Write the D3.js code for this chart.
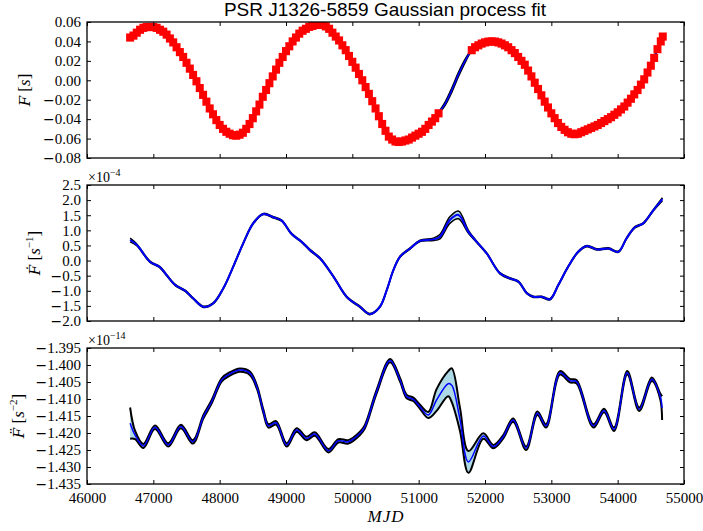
<!DOCTYPE html>
<html><head><meta charset="utf-8">
<script src="https://cdn.jsdelivr.net/npm/d3@7"></script>
<style>body{margin:0;background:#fff}svg{display:block}</style>
</head><body>
<svg id="c" width="703" height="531"></svg>
<script>
// ---------------- DATA ----------------
const xTicks = [46000,47000,48000,49000,50000,51000,52000,53000,54000,55000];
const fTicks = [-0.08,-0.06,-0.04,-0.02,0.00,0.02,0.04,0.06];
const fdTicks = [-2.0,-1.5,-1.0,-0.5,0.0,0.5,1.0,1.5,2.0,2.5];
const fddTicks = [-1.435,-1.430,-1.425,-1.420,-1.415,-1.410,-1.405,-1.400,-1.395];

// timing residuals (MJD, seconds)
const toa = [
[46650,0.044],[46700,0.046],[46750,0.049],[46800,0.052],[46850,0.054],[46900,0.0548],[46950,0.055],[47000,0.0548],
[47050,0.054],[47100,0.052],[47150,0.050],[47200,0.047],[47250,0.043],[47300,0.039],[47350,0.034],[47400,0.029],
[47450,0.024],[47500,0.018],[47550,0.012],[47600,0.0055],[47650,-0.001],[47700,-0.008],[47750,-0.015],[47800,-0.022],
[47850,-0.029],[47900,-0.035],[47950,-0.041],[48000,-0.046],[48050,-0.050],[48100,-0.053],[48150,-0.055],[48200,-0.0565],
[48250,-0.057],[48300,-0.056],[48350,-0.054],[48400,-0.050],[48450,-0.045],[48500,-0.039],[48550,-0.032],[48600,-0.025],
[48650,-0.017],[48700,-0.010],[48750,-0.003],[48800,0.004],[48850,0.011],[48900,0.018],[48950,0.024],[49000,0.030],
[49050,0.035],[49100,0.040],[49150,0.044],[49200,0.048],[49250,0.051],[49300,0.053],[49350,0.055],[49400,0.056],
[49450,0.057],[49500,0.0575],[49550,0.057],[49600,0.0555],[49650,0.053],[49700,0.049],[49750,0.045],[49800,0.041],
[49850,0.036],[49900,0.031],[49950,0.025],[50000,0.019],[50050,0.013],[50100,0.0065],[50150,0.000],[50200,-0.007],
[50250,-0.014],[50300,-0.0215],[50350,-0.029],[50400,-0.037],[50450,-0.045],[50500,-0.052],[50550,-0.058],[50600,-0.061],
[50650,-0.063],[50700,-0.0635],[50750,-0.063],[50800,-0.062],[50850,-0.061],[50900,-0.059],[50950,-0.057],[51000,-0.055],
[51050,-0.053],[51100,-0.050],[51150,-0.046],[51200,-0.0425],[51250,-0.039],[51300,-0.034],
[51800,0.031],[51850,0.034],[51900,0.036],[51950,0.0378],[52000,0.039],[52050,0.0398],[52100,0.040],[52150,0.0398],
[52200,0.039],[52250,0.0378],[52300,0.036],[52350,0.034],[52400,0.031],[52450,0.028],[52500,0.024],[52550,0.020],
[52600,0.016],[52650,0.010],[52700,0.004],[52750,-0.0025],[52800,-0.009],[52850,-0.0155],[52900,-0.022],[52950,-0.028],
[53000,-0.034],[53050,-0.039],[53100,-0.044],[53150,-0.048],[53200,-0.051],[53250,-0.0535],[53300,-0.055],[53350,-0.0555],
[53400,-0.055],[53450,-0.0535],[53500,-0.052],[53550,-0.0505],[53600,-0.049],[53650,-0.0475],[53700,-0.046],[53750,-0.044],
[53800,-0.042],[53850,-0.040],[53900,-0.038],[53950,-0.0355],[54000,-0.033],[54050,-0.030],[54100,-0.027],[54150,-0.023],
[54200,-0.019],[54250,-0.0145],[54300,-0.010],[54350,-0.0045],[54400,0.001],[54450,0.008],[54500,0.015],[54550,0.023],
[54600,0.032],[54650,0.040],[54680,0.045]
];
const toaErr = 0.0042;

// GP fit of F (s)
const fMJD  = [46650,46750,46850,46950,47050,47150,47250,47350,47450,47550,47650,47750,47850,47950,48050,48150,48250,48350,48450,48550,48650,48750,48850,48950,49050,49150,49250,49350,49450,49550,49650,49750,49850,49950,50050,50150,50250,50350,50450,50550,50650,50750,50850,50950,51050,51150,51250,51300,51400,51500,51600,51700,51800,51900,52000,52100,52200,52300,52400,52500,52600,52700,52800,52900,53000,53100,53200,53300,53400,53500,53600,53700,53800,53900,54000,54100,54200,54300,54400,54500,54600,54680];
const fMean = [0.044,0.049,0.054,0.055,0.054,0.050,0.043,0.034,0.024,0.012,-0.001,-0.015,-0.029,-0.041,-0.050,-0.055,-0.057,-0.054,-0.045,-0.032,-0.017,-0.003,0.011,0.024,0.035,0.044,0.051,0.055,0.057,0.057,0.053,0.045,0.036,0.025,0.013,0.000,-0.014,-0.029,-0.045,-0.058,-0.063,-0.063,-0.061,-0.057,-0.053,-0.046,-0.039,-0.034,-0.024,-0.010,0.006,0.020,0.031,0.036,0.039,0.040,0.039,0.036,0.031,0.024,0.016,0.004,-0.009,-0.022,-0.034,-0.044,-0.051,-0.055,-0.055,-0.052,-0.049,-0.046,-0.042,-0.038,-0.033,-0.027,-0.019,-0.010,0.001,0.015,0.032,0.045];
const fSig  = [0.0005,0.0005,0.0005,0.0005,0.0005,0.0005,0.0005,0.0005,0.0005,0.0005,0.0005,0.0005,0.0005,0.0005,0.0005,0.0005,0.0005,0.0005,0.0005,0.0005,0.0005,0.0005,0.0005,0.0005,0.0005,0.0005,0.0005,0.0005,0.0005,0.0005,0.0005,0.0005,0.0005,0.0005,0.0005,0.0005,0.0005,0.0005,0.0005,0.0005,0.0005,0.0005,0.0005,0.0005,0.0005,0.0005,0.0005,0.0006,0.0014,0.0018,0.0018,0.0014,0.0006,0.0005,0.0005,0.0005,0.0005,0.0005,0.0005,0.0005,0.0005,0.0005,0.0005,0.0005,0.0005,0.0005,0.0005,0.0005,0.0005,0.0005,0.0005,0.0005,0.0005,0.0005,0.0005,0.0005,0.0005,0.0005,0.0005,0.0005,0.0005,0.0005];

// GP fit of F-dot (units of 1e-4 s^-1)
const fdMJD  = [46650,46750,46950,47100,47200,47330,47480,47600,47755,47905,48055,48205,48355,48505,48660,48810,48935,49085,49235,49360,49515,49715,49915,50115,50265,50415,50520,50620,50720,50870,51020,51220,51320,51470,51600,51750,51875,52025,52225,52375,52505,52630,52730,52855,52980,53105,53255,53405,53535,53685,53860,54010,54135,54260,54385,54540,54675];
const fdMean = [0.68,0.52,-0.04,-0.22,-0.48,-0.81,-1.00,-1.25,-1.53,-1.41,-0.92,-0.20,0.57,1.23,1.54,1.43,1.32,0.88,0.62,0.35,0.07,-0.53,-1.20,-1.53,-1.77,-1.53,-0.97,-0.31,0.13,0.40,0.65,0.70,0.79,1.34,1.51,0.95,0.62,0.24,-0.42,-0.59,-0.70,-1.08,-1.20,-1.20,-1.28,-0.81,-0.20,0.29,0.48,0.37,0.40,0.29,0.74,1.10,1.23,1.67,2.03];
const fdSig  = [0.06,0.03,0.02,0.02,0.02,0.02,0.02,0.02,0.02,0.02,0.02,0.02,0.02,0.02,0.02,0.02,0.02,0.02,0.02,0.02,0.02,0.02,0.02,0.02,0.02,0.02,0.02,0.02,0.02,0.02,0.02,0.04,0.07,0.11,0.13,0.05,0.02,0.02,0.02,0.02,0.02,0.02,0.02,0.02,0.02,0.02,0.02,0.02,0.02,0.02,0.02,0.02,0.02,0.02,0.02,0.02,0.05];

// GP fit of F-double-dot (units of 1e-14 s^-2)
const fddMJD  = [46650,46725,46850,47025,47225,47415,47595,47755,47880,48030,48155,48305,48455,48560,48660,48735,48850,49010,49160,49310,49435,49640,49790,49940,50115,50190,50365,50570,50720,50820,50920,51020,51145,51270,51445,51500,51623,51750,51975,52125,52275,52425,52620,52790,52920,53130,53280,53380,53635,53795,53945,54145,54325,54515,54640,54670];
const fddMean = [-1.4171,-1.4206,-1.4238,-1.4183,-1.4235,-1.4181,-1.4226,-1.4152,-1.4108,-1.4044,-1.4026,-1.4015,-1.4024,-1.4064,-1.4137,-1.4179,-1.4170,-1.4235,-1.4191,-1.4216,-1.4203,-1.4252,-1.4223,-1.4226,-1.4201,-1.4181,-1.4079,-1.3987,-1.4044,-1.4093,-1.4101,-1.4123,-1.4147,-1.4103,-1.4055,-1.4060,-1.4160,-1.4285,-1.4209,-1.4240,-1.4211,-1.4162,-1.4245,-1.4142,-1.4179,-1.4023,-1.4046,-1.4049,-1.4179,-1.4134,-1.4189,-1.4023,-1.4130,-1.4042,-1.4091,-1.4127];
const fddSig  = [0.0046,0.0012,0.0006,0.0005,0.0005,0.0005,0.0005,0.0005,0.0005,0.0005,0.0005,0.0005,0.0005,0.0005,0.0005,0.0005,0.0005,0.0005,0.0005,0.0005,0.0005,0.0005,0.0005,0.0005,0.0005,0.0005,0.0005,0.0005,0.0005,0.0005,0.0005,0.0006,0.0009,0.0032,0.0037,0.0050,0.0034,0.0032,0.0008,0.0005,0.0005,0.0005,0.0005,0.0005,0.0005,0.0005,0.0005,0.0005,0.0005,0.0005,0.0005,0.0005,0.0005,0.0005,0.0008,0.0035];

// ---------------- DRAW ----------------
const svg = d3.select("#c");
const L = 87, R = 684;
const x = d3.scaleLinear().domain([46000,55000]).range([L,R]);
const serif = "'Liberation Serif','Times New Roman',serif";
const zip = (m,v,s) => m.map((d,i)=>({m:d,v:v[i],s:s[i]}));

const panels = [
  {top:22, bot:158, dom:[-0.08,0.06], ticks:fTicks, fmt:d3.format(".2f"), gp:zip(fMJD,fMean,fSig), meanW:1.6, boundW:1.8},
  {top:185, bot:321, dom:[-2.0,2.5], ticks:fdTicks, fmt:d3.format(".1f"), gp:zip(fdMJD,fdMean,fdSig), meanW:2, boundW:1.5},
  {top:348, bot:484, dom:[-1.435,-1.395], ticks:fddTicks, fmt:d3.format(".3f"), gp:zip(fddMJD,fddMean,fddSig), meanW:1.5, boundW:2}
];

panels.forEach((p,i)=>{
  const y = d3.scaleLinear().domain(p.dom).range([p.bot,p.top]);
  const cid = "clip"+i;
  svg.append("clipPath").attr("id",cid).append("rect")
    .attr("x",L).attr("y",p.top).attr("width",R-L).attr("height",p.bot-p.top);
  const g = svg.append("g").attr("clip-path",`url(#${cid})`);
  const curve = d3.curveCatmullRom.alpha(0.5);
  g.append("path").datum(p.gp)
    .attr("d", d3.area().x(d=>x(d.m)).y0(d=>y(d.v-d.s)).y1(d=>y(d.v+d.s)).curve(curve))
    .attr("fill","#add8e6");
  [1,-1].forEach(k=>{
    g.append("path").datum(p.gp)
      .attr("d", d3.line().x(d=>x(d.m)).y(d=>y(d.v+k*d.s)).curve(curve))
      .attr("fill","none").attr("stroke","#000").attr("stroke-width",p.boundW);
  });
  g.append("path").datum(p.gp)
    .attr("d", d3.line().x(d=>x(d.m)).y(d=>y(d.v)).curve(curve))
    .attr("fill","none").attr("stroke","#0000ff").attr("stroke-width",p.meanW);

  if(i===0){
    const eb = g.append("g").attr("stroke","#ff0000");
    toa.forEach(([m,v])=>{
      const cx = x(m);
      eb.append("line").attr("x1",cx).attr("x2",cx)
        .attr("y1",y(v+toaErr)).attr("y2",y(v-toaErr)).attr("stroke-width",8);
    });
  }

  // axes
  const styleAxis = sel => {
    sel.select(".domain").remove();
    sel.selectAll(".tick line").attr("stroke","#000").attr("stroke-width",1);
    sel.selectAll("text").attr("font-family",serif).attr("font-size",15).attr("fill","#000");
    sel.selectAll(".tick text").each(function(){
      const t = d3.select(this), s = t.text();
      if(s.startsWith("−")){
        t.text("");
        t.append("tspan").attr("font-family","'DejaVu Serif',serif").attr("font-size",14).text("−");
        t.append("tspan").text(s.slice(1));
      }
    });
  };
  svg.append("g").attr("transform",`translate(${L},0)`)
    .call(d3.axisLeft(y).tickValues(p.ticks).tickSize(-4).tickPadding(6).tickFormat(p.fmt)).call(styleAxis);
  svg.append("g").attr("transform",`translate(${R},0)`)
    .call(d3.axisRight(y).tickValues(p.ticks).tickSize(-4).tickFormat("")).call(styleAxis);
  svg.append("g").attr("transform",`translate(0,${p.top})`)
    .call(d3.axisTop(x).tickValues(xTicks).tickSize(-4).tickFormat("")).call(styleAxis);
  svg.append("g").attr("transform",`translate(0,${p.bot})`)
    .call(d3.axisBottom(x).tickValues(xTicks).tickSize(-4).tickPadding(8)
      .tickFormat(i===2 ? d3.format("d") : "")).call(styleAxis);
  svg.append("rect").attr("x",L).attr("y",p.top).attr("width",R-L).attr("height",p.bot-p.top)
    .attr("fill","none").attr("stroke","#000").attr("stroke-width",1.3);
});

// title
svg.append("text").attr("x",385).attr("y",16).attr("text-anchor","middle")
  .attr("font-family","'Liberation Sans',Arial,sans-serif").attr("font-size",19)
  .text("PSR J1326-5859 Gaussian process fit");

// offset texts
function offsetText(yb, exp){
  const t = svg.append("text").attr("x",88).attr("y",yb).attr("font-family",serif).attr("font-size",14);
  t.append("tspan").text("×10");
  t.append("tspan").attr("font-size",10).attr("dy",-6).text(exp);
}
offsetText(182,"−4");
offsetText(345,"−14");

// y labels
function ylab(xb, yc, dot, exp){
  const t = svg.append("text").attr("transform",`translate(${xb},${yc}) rotate(-90)`)
    .attr("text-anchor","middle").attr("font-family",serif).attr("font-size",17);
  t.append("tspan").attr("font-style","italic").attr("font-family","'DejaVu Serif',serif").attr("font-size",15)
    .text("F" + dot);
  t.append("tspan").text(" [");
  t.append("tspan").attr("font-style","italic").text("s");
  if(exp){
    t.append("tspan").attr("font-size",11).attr("dy",-7).text(exp);
    t.append("tspan").attr("dy",7).text("]");
  } else t.append("tspan").text("]");
}
ylab(30, 90, "", "");
ylab(40, 253, "\u0307", "−1");
ylab(24, 416, "\u0308", "−2");

// x label
svg.append("text").attr("x",386).attr("y",522).attr("text-anchor","middle")
  .attr("font-family",serif).attr("font-style","italic").attr("font-size",17)
  .attr("letter-spacing",1).text("MJD");
</script>
</body></html>
